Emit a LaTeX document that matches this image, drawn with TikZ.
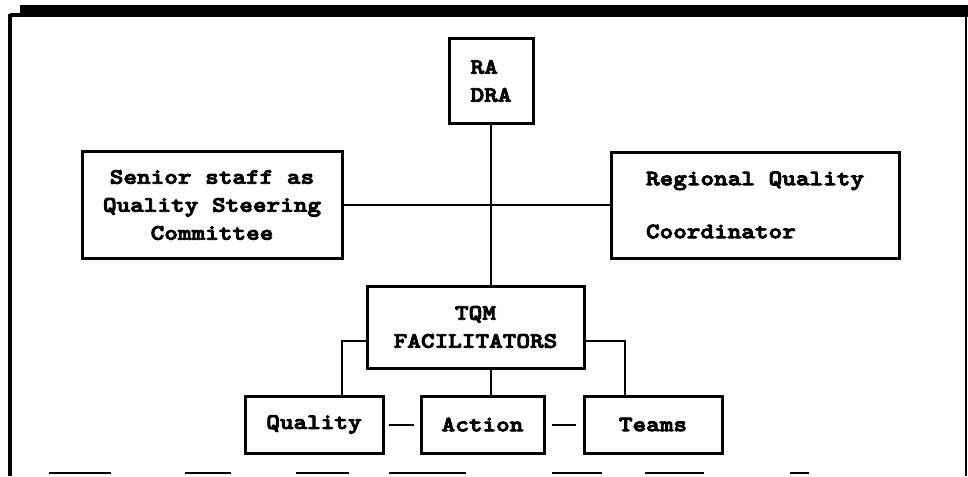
\documentclass[tikz,border=0pt]{standalone}
\usepackage{fontspec}
\newfontfamily\chartfont[FakeStretch=1.18,FakeBold=4]{lmmonolt10-bold.otf}
\begin{document}
\begin{tikzpicture}[x=0.5pt,y=-0.5pt,
    unit/.style={draw=black,line width=1.5pt,inner sep=0pt,
        font=\chartfont\fontsize{11}{14}\selectfont},
    link/.style={line width=1pt}]
    \useasboundingbox (0,0) rectangle (968,476);

    % frame
    \fill (20,5) rectangle (968,17);
    \draw[line width=2pt] (10,15) -- (20,15) (10,14) -- (10,476);
    \draw[line width=1pt] (966,17) -- (966,476);
    \foreach \a/\b in {49/111,185/231,296/349,389/466,552/602,645/704,790/809}
        \draw[line width=1.2pt] (\a,473) -- (\b,473);

    \node[unit,minimum width=42pt,minimum height=42pt,align=left] (RA) at (491,81) {RA\\DRA};
    \node[unit,minimum width=130pt,minimum height=53.5pt,align=center] (Senior) at (212,205) {Senior staff as\\Quality Steering\\Committee};
    \node[unit,minimum width=144pt,minimum height=53pt,align=left] (Coordinator) at (755,205) {Regional Quality\\[12.5pt]Coordinator};
    \node[unit,minimum width=108.5pt,minimum height=41pt,align=center] (TQM) at (475.5,327) {TQM\\FACILITATORS};
    \node[unit,minimum width=69pt,minimum height=28.5pt] (Quality) at (314,424.5) {Quality};
    \node[unit,minimum width=61.5pt,minimum height=28.5pt] (Action) at (482.5,424.5) {Action};
    \node[unit,minimum width=69pt,minimum height=28.5pt] (Teams) at (653,424.5) {Teams\hspace{14.5pt}};

    \draw[link] (RA.south) -- (RA.south |- TQM.north);
    \draw[link] (Senior.east) -- (Coordinator.west);
    \draw[link] ([yshift=-7pt]TQM.west) -| ([xshift=14pt]Quality.north);
    \draw[link] ([yshift=-7pt]TQM.east) -| ([xshift=-14pt]Teams.north);
    \draw[link] (RA.south |- TQM.south) -- (RA.south |- Action.north);
    \draw[link,shorten <=2pt,shorten >=3pt] (Quality.east) -- (Action.west);
    \draw[link,shorten <=3pt,shorten >=3.5pt] (Action.east) -- (Teams.west);
\end{tikzpicture}
\end{document}
